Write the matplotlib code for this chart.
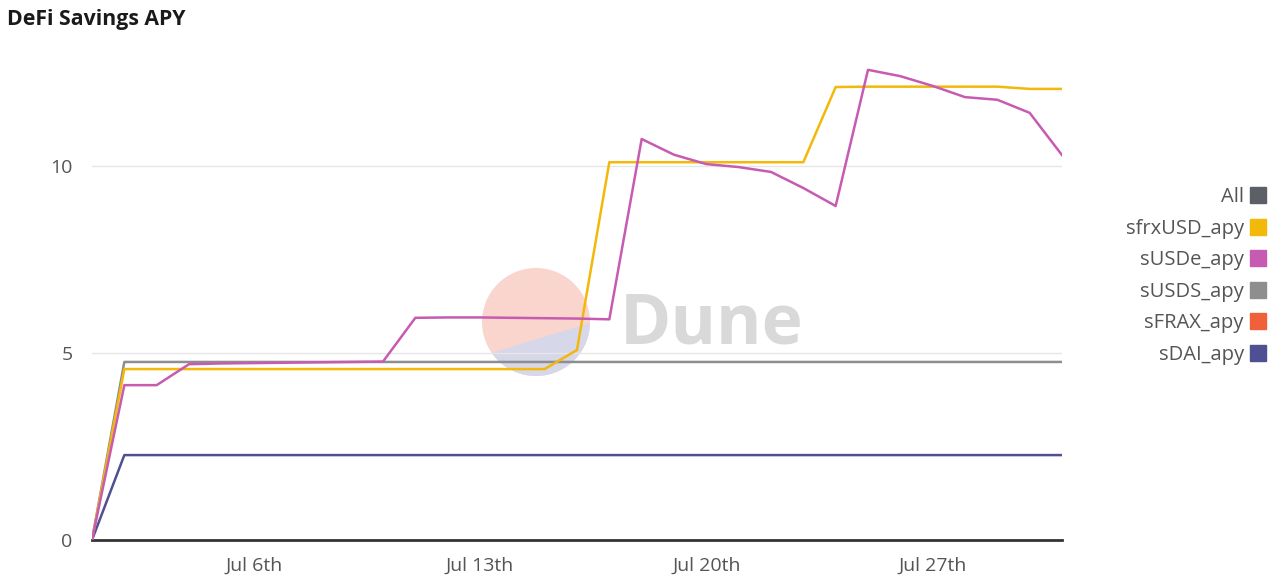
import matplotlib
matplotlib.use("Agg")
import matplotlib.pyplot as plt
import matplotlib.dates as mdates
from matplotlib.lines import Line2D
from matplotlib.patches import Circle
import numpy as np
import pandas as pd

dates = pd.date_range("2025-07-01", "2025-07-31", freq="D")

sfrxUSD_apy = [0, 4.57, 4.57, 4.57, 4.57, 4.57, 4.57, 4.57, 4.57, 4.57, 4.57, 4.57, 4.57, 4.57, 4.57,
               5.08, 10.1, 10.1, 10.1, 10.1, 10.1, 10.1, 10.1, 12.11, 12.12, 12.12, 12.12, 12.12, 12.12,
               12.06, 12.06]
sUSDe_apy = [0, 4.14, 4.14, 4.70, 4.72, 4.73, 4.74, 4.75, 4.76, 4.77, 5.94, 5.95, 5.95, 5.94, 5.93,
             5.92, 5.90, 10.72, 10.30, 10.05, 9.97, 9.84, 9.41, 8.93, 12.57, 12.40, 12.14, 11.84,
             11.77, 11.42, 10.29]
sUSDS_apy = [0] + [4.76] * 30
sDAI_apy = [0] + [2.27] * 30

series_names = ["All", "sfrxUSD_apy", "sUSDe_apy", "sUSDS_apy", "sFRAX_apy", "sDAI_apy"]
series_colors = ["#5c5f66", "#f2b80a", "#c75bb2", "#8e8e8e", "#f0603a", "#4f4f93"]
tick_days = [6, 13, 20, 27]

W, H = 1280, 583
plt.rcParams['font.family'] = ['Open Sans', 'DejaVu Sans']
fig = plt.figure(figsize=(W / 100, H / 100), dpi=100)

ax = fig.add_axes([92 / W, 1 - 540 / H, (1062 - 92) / W, (540 - 50) / H])

# watermark
wm = fig.add_axes([0, 0, 1, 1], zorder=0)
wm.set_xlim(0, W); wm.set_ylim(H, 0); wm.axis("off")
cx, cy, r = 536, 322, 54
wm.add_patch(Circle((cx, cy), r, color="#f9d5ce", lw=0))
theta = np.linspace(np.deg2rad(1), np.deg2rad(145), 80)
xs = cx + r * np.cos(theta)
ys = cy + r * np.sin(theta)
wm.fill(np.r_[xs, xs[0]], np.r_[ys, ys[0]], color="#d6d7e9", lw=0)
wm.text(620, 326, "Dune", fontsize=50, fontweight="bold", color="#d9d9d9",
        va="center", ha="left")
ax.set_zorder(1)
ax.patch.set_alpha(0)

ax.plot(dates, sUSDS_apy, color=series_colors[3], lw=1.8, zorder=3)
ax.plot(dates, sDAI_apy, color=series_colors[5], lw=1.8, zorder=3)
ax.plot(dates, sfrxUSD_apy, color=series_colors[1], lw=1.8, zorder=4)
ax.plot(dates, sUSDe_apy, color=series_colors[2], lw=1.8, zorder=5)

ax.set_xlim(dates[0], dates[-1])
ax.set_ylim(0, 13.1)
ax.set_yticks([0, 5, 10])
ax.grid(axis="y", color="#e6e6e6", lw=1)
ax.set_axisbelow(True)
for s in ["top", "right", "left"]:
    ax.spines[s].set_visible(False)
ax.spines["bottom"].set_color("#333333")
ax.spines["bottom"].set_linewidth(2)

ax.xaxis.set_major_locator(mdates.DayLocator(bymonthday=tick_days))
ax.xaxis.set_major_formatter(plt.FuncFormatter(
    lambda v, p: mdates.num2date(v).strftime("%b ") + f"{mdates.num2date(v).day}th"))
ax.tick_params(axis="x", length=0, pad=12, labelsize=14, labelcolor="#555555")
ax.tick_params(axis="y", length=0, pad=14, labelsize=14, labelcolor="#555555")

fig.text(7 / W, 1 - 20 / H, "DeFi Savings APY", fontsize=15.3, fontweight="bold",
         color="#1a1a1a", va="center", ha="left")

handles = [Line2D([], [], marker="s", ls="none", markersize=11, color=c,
                  markeredgecolor=c) for c in series_colors]
leg = fig.legend(handles, series_names, loc="center right",
                 bbox_to_anchor=(1284 / W, 1 - 276 / H), frameon=False,
                 markerfirst=False, alignment="right", fontsize=14.5,
                 labelspacing=0.57, handletextpad=0.3, handlelength=0.8,
                 labelcolor="#555555")

fig.savefig("out.png", dpi=100)
